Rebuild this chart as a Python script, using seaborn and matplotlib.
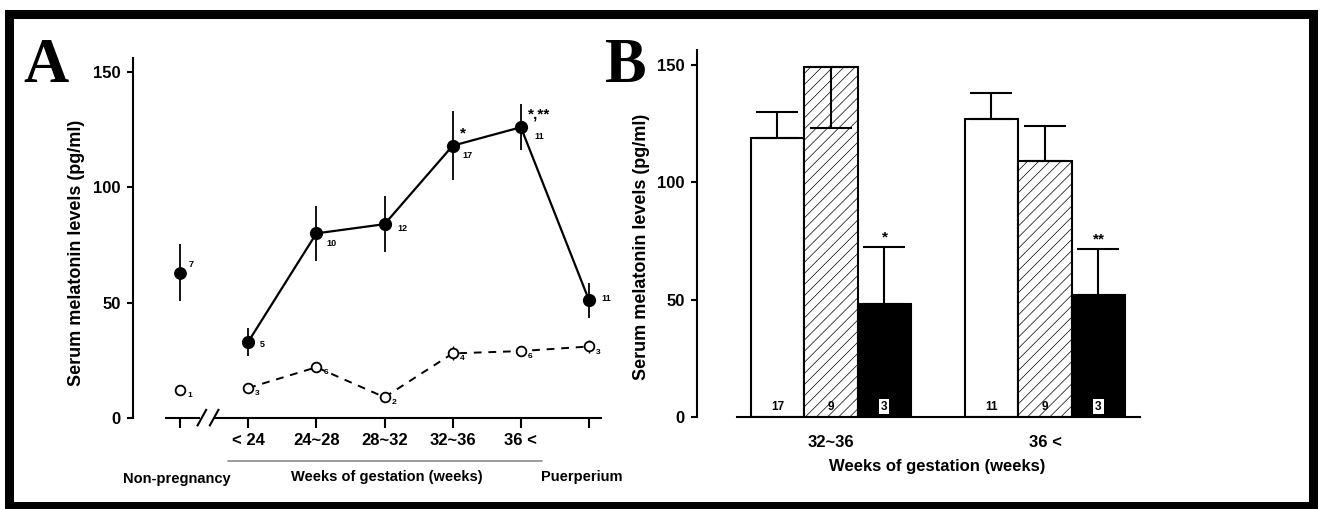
import numpy as np
import pandas as pd
import matplotlib
matplotlib.use("Agg")
import matplotlib.pyplot as plt
from matplotlib.patches import Rectangle
import seaborn as sns

# ---- Panel A: serum melatonin across pregnancy ----
stages = ["Non-pregnancy", "< 24", "24~28", "28~32", "32~36", "36 <", "Puerperium"]
normal_mean = [63, 33, 80, 84, 118, 126, 51]
normal_se = [12.5, 6, 12, 12, 15, 10, 7.5]
normal_n = [7, 5, 10, 12, 17, 11, 11]
normal_marks = ["", "", "", "", "*", "*,**", ""]
pih_mean = [12, 13, 22, 9, 28, 29, 31]
pih_se = [0, 2, 2, 2, 3, 2, 3]
pih_n = [1, 3, 6, 2, 4, 6, 3]

# ---- Panel B: late gestation by group ----
periods = ["32~36", "36 <"]
groups = ["normal", "mild", "severe"]
bar_mean = {"normal": [119, 127], "mild": [149, 109], "severe": [48, 52]}
bar_se = {"normal": [11, 11], "mild": [26, 15], "severe": [24.5, 19.5]}
bar_n = {"normal": [17, 11], "mild": [9, 9], "severe": [3, 3]}
bar_marks = {"normal": ["", ""], "mild": ["", ""], "severe": ["*", "**"]}

sns.set_theme(style="ticks")
plt.rcParams["font.family"] = ["Liberation Sans", "DejaVu Sans"]
plt.rcParams["font.weight"] = "bold"
plt.rcParams["hatch.linewidth"] = 0.5
for key in ["text.color", "axes.labelcolor", "xtick.color", "ytick.color",
            "axes.edgecolor"]:
    plt.rcParams[key] = "black"

W, H = 1322, 509
fig = plt.figure(figsize=(W / 100, H / 100), dpi=100)
fig.patch.set_facecolor("white")

def box(left, top, right, bottom):
    return [left / W, (H - bottom) / H, (right - left) / W, (bottom - top) / H]

tick_fs = 12
ylab_fs = 13

# ================= Panel A =================
ax = fig.add_axes(box(133, 58, 602, 418))
ax.set_facecolor("white")
pos = np.arange(len(stages))

ax.errorbar(pos, normal_mean, yerr=normal_se, fmt="none", ecolor="black",
            elinewidth=1.3, capsize=0, zorder=2, clip_on=False)
ax.errorbar(pos, pih_mean, yerr=pih_se, fmt="none", ecolor="black",
            elinewidth=1.0, capsize=0, zorder=2, clip_on=False)

sns.lineplot(x=pos[1:], y=pih_mean[1:], ax=ax, color="black", lw=1.4,
             linestyle=(0, (4, 3.5)), marker="o", markersize=7,
             markerfacecolor="white", markeredgecolor="black",
             markeredgewidth=1.3, zorder=3, clip_on=False)
sns.scatterplot(x=pos[:1], y=pih_mean[:1], ax=ax, marker="o", s=49,
                facecolor="white", edgecolor="black", linewidth=1.3,
                zorder=3, clip_on=False)

sns.lineplot(x=pos[1:], y=normal_mean[1:], ax=ax, color="black", lw=1.6,
             marker="o", markersize=8.5, markerfacecolor="black",
             markeredgecolor="black", markeredgewidth=1, zorder=4)
sns.scatterplot(x=pos[:1], y=normal_mean[:1], ax=ax, marker="o", s=72,
                color="black", edgecolor="black", zorder=4)

n_offsets = [(6, 6), (8, -2), (7, -7), (9, -3), (7, -7), (10, -7), (9, 1)]
for x, y, n, off in zip(pos, normal_mean, normal_n, n_offsets):
    ax.annotate(str(n), (x, y), xytext=off, textcoords="offset points",
                fontsize=6.5, ha="left", va="center")
for x, y, m in zip(pos, normal_mean, normal_marks):
    if m:
        ax.annotate(m, (x, y), xytext=(5, 9), textcoords="offset points",
                    fontsize=11, ha="left", va="center")
for x, y, n in zip(pos, pih_mean, pih_n):
    ax.annotate(str(n), (x, y), xytext=(5, -4), textcoords="offset points",
                fontsize=6, ha="left", va="center")

ax.set_xlim(-0.69, 6.19)
ax.set_ylim(0, 156)
ax.set_yticks([0, 50, 100, 150])
ax.set_xticks(pos)
ax.set_xticklabels([""] + stages[1:6] + [""])
for s in ["top", "right"]:
    ax.spines[s].set_visible(False)
ax.spines["left"].set_linewidth(1.5)
ax.spines["bottom"].set_visible(False)
# broken x-axis
bkw = dict(color="black", lw=1.5, clip_on=False, solid_capstyle="butt")
ax.plot([-0.22, 0.30], [0, 0], **bkw)
ax.plot([0.50, 6.19], [0, 0], **bkw)
for bx in (0.32, 0.50):
    ax.plot([bx - 0.07, bx + 0.07], [-3.6, 3.9], **bkw)
ax.tick_params(axis="y", length=4.5, width=1.5, pad=4.5, labelsize=tick_fs)
ax.tick_params(axis="x", length=7, width=1.5, pad=4, labelsize=tick_fs)
ax.set_ylabel("Serum melatonin levels (pg/ml)", fontsize=ylab_fs, fontweight="bold")
ax.yaxis.set_label_coords(-0.102, 0.458)
ax.set_xlabel("")

xt = ax.get_xaxis_transform()
ax.plot([0.70, 5.31], [-0.119, -0.119], transform=xt, color="#8a8a8a",
        lw=1.2, clip_on=False)
ax.text(-0.04, -0.170, "Non-pregnancy", transform=xt, ha="center", va="center",
        fontsize=10.5)
ax.text(3.04, -0.164, "Weeks of gestation (weeks)", transform=xt, ha="center",
        va="center", fontsize=10.5)
ax.text(5.3, -0.164, "Puerperium", transform=xt, ha="left", va="center",
        fontsize=10.5)

# ================= Panel B =================
ax2 = fig.add_axes(box(697, 50, 1140, 417))
ax2.set_facecolor("white")
rows = []
for g in groups:
    for i, p in enumerate(periods):
        rows.append({"period": p, "group": g, "value": bar_mean[g][i],
                     "se": bar_se[g][i], "n": bar_n[g][i], "mark": bar_marks[g][i]})
df = pd.DataFrame(rows)

sns.barplot(data=df, x="period", y="value", hue="group", order=periods,
            hue_order=groups, palette=["white", "white", "black"],
            edgecolor="black", linewidth=1.5, width=0.75, saturation=1,
            errorbar=None, legend=False, ax=ax2, zorder=2)

ymax = 156.4
ax2.set_ylim(0, ymax)
ax2.set_xlim(-0.626, 1.444)

bars = sorted(ax2.patches, key=lambda p: p.get_x())
ordered = df.assign(pi=df["period"].map(periods.index),
                    gi=df["group"].map(groups.index)).sort_values(["pi", "gi"])
for patch, (_, r) in zip(bars, ordered.iterrows()):
    cx = patch.get_x() + patch.get_width() / 2
    top = patch.get_height()
    if r["group"] == "mild":
        patch.set_hatch("///")
    if top + r["se"] <= ymax:
        yerr = [[0], [r["se"]]]
        tip = top + r["se"]
    else:
        yerr = [[r["se"]], [0]]
        tip = top
    ax2.errorbar([cx], [top], yerr=yerr, fmt="none", ecolor="black",
                 elinewidth=1.5, capsize=15, capthick=1.5, zorder=3)
    if r["mark"]:
        ax2.annotate(r["mark"], (cx, tip), xytext=(0, 2), textcoords="offset points",
                     ha="center", va="bottom", fontsize=11)
    bb = dict(boxstyle="square,pad=0.15", fc="white", ec="none") if r["group"] == "severe" else None
    ax2.annotate(str(r["n"]), (cx, 0), xytext=(0, 7.5), textcoords="offset points",
                 ha="center", va="center", fontsize=8.5, color="black", bbox=bb, zorder=5)

for s in ["top", "right"]:
    ax2.spines[s].set_visible(False)
ax2.spines["left"].set_linewidth(1.5)
ax2.spines["bottom"].set_linewidth(1.5)
ax2.spines["bottom"].set_bounds(-0.44, 1.444)
ax2.set_yticks([0, 50, 100, 150])
ax2.tick_params(axis="y", length=4.5, width=1.5, pad=4.5, labelsize=tick_fs)
ax2.tick_params(axis="x", length=0, pad=13, labelsize=tick_fs)
ax2.set_ylabel("Serum melatonin levels (pg/ml)", fontsize=ylab_fs, fontweight="bold")
ax2.yaxis.set_label_coords(-0.106, 0.463)
ax2.set_xlabel("Weeks of gestation (weeks)", fontsize=tick_fs, fontweight="bold")
ax2.xaxis.set_label_coords((937 - 697) / 443, -0.115)

# panel letters
for letter, lx in (("A", 23), ("B", 605)):
    fig.text(lx / W, (H - 82) / H, letter, family=["Liberation Serif", "DejaVu Serif"],
             fontsize=45, fontweight="bold", ha="left", va="baseline")

# outer frame
fig.add_artist(Rectangle((9 / W, (H - 506) / H), (1312.5 - 9) / W, (506 - 14) / H,
                         transform=fig.transFigure, fill=False, ec="black", lw=6.5))

fig.savefig("out.png", dpi=100, facecolor="white")
